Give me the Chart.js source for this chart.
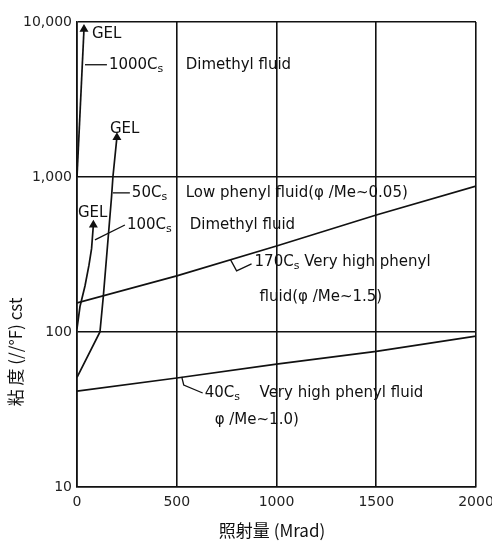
<!DOCTYPE html>
<html>
<head>
<meta charset="utf-8">
<script src="https://cdn.jsdelivr.net/npm/chart.js@4/dist/chart.umd.min.js"></script>
<style>
  body { margin: 0; background: #fff; }
  canvas { display: block; }
</style>
</head>
<body>
<canvas id="viscChart" width="492" height="544"></canvas>
<script>
// Dose (Mrad) vs viscosity (cst)
const xTickValues = [0, 500, 1000, 1500, 2000];
const xTickLabels = ['0', '500', '1000', '1500', '2000'];
const yTickValues = [10, 100, 1000, 10000];
const yTickLabels = ['10', '100', '1,000', '10,000'];

const dimethyl1000X = [0, 35];
const dimethyl1000Y = [1000, 9000];

const lowPhenyl50X = [0, 115, 132, 173, 180, 200];
const lowPhenyl50Y = [51, 100, 170, 740, 1000, 1800];

const dimethyl100X = [0, 15, 40, 60, 73, 82];
const dimethyl100Y = [105, 146, 198, 270, 345, 490];

const highPhenyl170X = [0, 500, 1000, 1500, 2000];
const highPhenyl170Y = [154, 230, 359, 569, 873];

const highPhenyl40X = [0, 500, 1000, 1500, 2000];
const highPhenyl40Y = [41.6, 50.5, 62, 75, 94];

// Text labels, anchored in data units (left edge, vertical middle)
const notes = [
    { x: 75, y: 8400, text: 'GEL' },
    { x: 160, y: 5300, text: '1000C_s' },
    { x: 545, y: 5300, text: 'Dimethyl fluid' },
    { x: 165, y: 2040, text: 'GEL' },
    { x: 275, y: 790, text: '50C_s' },
    { x: 545, y: 790, text: 'Low phenyl fluid(φ /Me~0.05)' },
    { x: 5, y: 586, text: 'GEL' },
    { x: 250, y: 490, text: '100C_s' },
    { x: 565, y: 490, text: 'Dimethyl fluid' },
    { x: 890, y: 283, text: '170C_s Very high phenyl' },
    { x: 915, y: 168, text: 'fluid(φ /Me~1.5)' },
    { x: 640, y: 40.4, text: '40C_s' },
    { x: 915, y: 40.4, text: 'Very high phenyl fluid' },
    { x: 690, y: 27, text: 'φ /Me~1.0)' }
];

// Leader lines from the curves to their labels
const leaders = [
    [[40, 5300], [150, 5300]],
    [[180, 790], [265, 790]],
    [[90, 393], [240, 490]],
    [[770, 292], [800, 248], [875, 275]],
    [[525, 51.3], [535, 45.5], [630, 40.4]]
];

function toPoints(xs, ys) {
    return xs.map((x, i) => ({ x: x, y: ys[i] }));
}

// Arrow head only on the last point of a GEL curve
function arrowRadii(xs) {
    return xs.map((_, i) => (i === xs.length - 1 ? 3.5 : 0));
}

function curve(xs, ys, gel) {
    return {
        data: toPoints(xs, ys),
        showLine: true,
        borderColor: '#111',
        backgroundColor: '#111',
        borderWidth: 1.7,
        pointStyle: 'triangle',
        pointRadius: gel ? arrowRadii(xs) : 0,
        pointHoverRadius: 0,
        tension: 0
    };
}

const labelFont = '15px "DejaVu Sans"';

function drawNote(ctx, x, y, text) {
    const parts = text.split('_');
    ctx.font = labelFont;
    ctx.fillText(parts[0], x, y);
    if (parts.length > 1) {
        let w = ctx.measureText(parts[0]).width;
        const rest = parts[1];
        const sub = rest[0];
        ctx.font = '11px "DejaVu Sans"';
        ctx.fillText(sub, x + w, y + 4);
        w += ctx.measureText(sub).width;
        ctx.font = labelFont;
        if (rest.length > 1) ctx.fillText(rest.slice(1), x + w, y);
    }
}

const notesPlugin = {
    id: 'notes',
    beforeDraw(chart) {
        const ctx = chart.ctx;
        ctx.save();
        ctx.fillStyle = '#fff';
        ctx.fillRect(0, 0, chart.width, chart.height);
        ctx.restore();
    },
    afterDatasetsDraw(chart) {
        const ctx = chart.ctx;
        const xs = chart.scales.x;
        const ys = chart.scales.y;
        ctx.save();
        ctx.strokeStyle = '#111';
        ctx.lineWidth = 1.3;
        leaders.forEach(pts => {
            ctx.beginPath();
            pts.forEach(([x, y], i) => {
                const px = xs.getPixelForValue(x);
                const py = ys.getPixelForValue(y);
                if (i === 0) ctx.moveTo(px, py);
                else ctx.lineTo(px, py);
            });
            ctx.stroke();
        });

        ctx.fillStyle = '#111';
        ctx.textBaseline = 'middle';
        ctx.textAlign = 'left';
        notes.forEach(n => {
            drawNote(ctx, xs.getPixelForValue(n.x), ys.getPixelForValue(n.y), n.text);
        });

        // axis titles
        ctx.font = '17px "Noto Sans CJK JP", "DejaVu Sans"';
        ctx.textAlign = 'center';
        ctx.fillText('照射量 (Mrad)', 272, 531);
        ctx.translate(16, 352);
        ctx.rotate(-Math.PI / 2);
        ctx.fillText('粘 度 (//°F) cst', 0, 0);
        ctx.restore();
    }
};

const ctx = document.getElementById('viscChart').getContext('2d');
new Chart(ctx, {
    type: 'scatter',
    data: {
        datasets: [
            curve(dimethyl1000X, dimethyl1000Y, true),
            curve(lowPhenyl50X, lowPhenyl50Y, true),
            curve(dimethyl100X, dimethyl100Y, true),
            curve(highPhenyl170X, highPhenyl170Y, false),
            curve(highPhenyl40X, highPhenyl40Y, false)
        ]
    },
    options: {
        responsive: false,
        animation: false,
        layout: { padding: { top: 22, right: 16, left: 0, bottom: 0 } },
        plugins: {
            legend: { display: false },
            tooltip: { enabled: false }
        },
        scales: {
            x: {
                type: 'linear',
                min: 0,
                max: 2000,
                afterBuildTicks: (scale) => {
                    scale.ticks = xTickValues.map(v => ({ value: v }));
                },
                afterFit: (scale) => {
                    scale.height = 57;
                    scale.paddingLeft = 0;
                    scale.paddingRight = 0;
                },
                ticks: {
                    color: '#222',
                    font: { family: 'DejaVu Sans', size: 14 },
                    padding: 7,
                    maxRotation: 0,
                    callback: (v, i) => xTickLabels[i]
                },
                grid: { color: '#111', lineWidth: 1.6, drawTicks: false },
                border: { color: '#111', width: 1.6 }
            },
            y: {
                type: 'logarithmic',
                min: 10,
                max: 10000,
                afterBuildTicks: (scale) => {
                    scale.ticks = yTickValues.map(v => ({ value: v, major: true }));
                },
                afterFit: (scale) => {
                    scale.width = 77;
                    scale.paddingTop = 0;
                    scale.paddingBottom = 0;
                },
                ticks: {
                    color: '#222',
                    font: { family: 'DejaVu Sans', size: 14 },
                    padding: 5,
                    callback: (v, i) => yTickLabels[i]
                },
                grid: { color: '#111', lineWidth: 1.6, drawTicks: false },
                border: { color: '#111', width: 1.6 }
            }
        }
    },
    plugins: [notesPlugin]
});
</script>
</body>
</html>
